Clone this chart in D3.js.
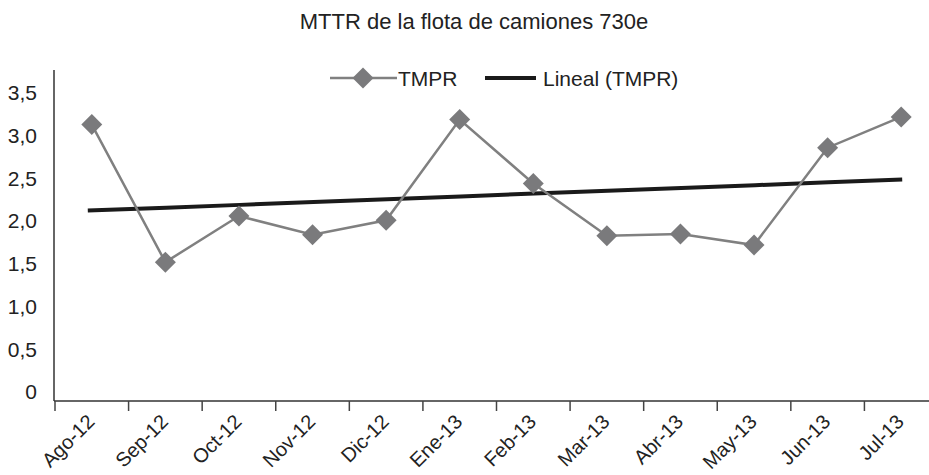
<!DOCTYPE html>
<html>
<head>
<meta charset="utf-8">
<script src="https://cdn.jsdelivr.net/npm/d3@7"></script>
<style>
  body { margin: 0; background: #fff; }
  svg { font-family: "Liberation Sans", Arial, sans-serif; }
</style>
</head>
<body>
<script>
// months and MTTR values (hours)
const months = ["Ago-12", "Sep-12", "Oct-12", "Nov-12", "Dic-12", "Ene-13",
                "Feb-13", "Mar-13", "Abr-13", "May-13", "Jun-13", "Jul-13"]
const tmpr = [3.13, 1.52, 2.06, 1.84, 2.01, 3.19, 2.44, 1.83, 1.85, 1.72, 2.86, 3.22]
const yTicks = [0, 0.5, 1, 1.5, 2, 2.5, 3, 3.5]

const width = 929, height = 475
const svg = d3.select("body").append("svg")
  .attr("width", width).attr("height", height)

// scales
const x = d3.scaleBand().domain(months).range([55, 938])
const y = d3.scaleLinear().domain([0, 3.5]).range([392, 93])
const plotTop = 70, plotBottom = 401
const cx = d => x(d) + x.bandwidth() / 2

// title
svg.append("text")
  .attr("x", 474).attr("y", 29)
  .attr("text-anchor", "middle")
  .attr("font-size", 22).attr("fill", "#222")
  .text("MTTR de la flota de camiones 730e")

// y axis labels (comma decimals)
const fmt = d => d === 0 ? "0" : d3.format(".1f")(d).replace(".", ",")
const yAxis = svg.append("g")
  .attr("transform", "translate(54,0)")
  .call(d3.axisLeft(y).tickValues(yTicks).tickFormat(fmt).tickSize(0).tickPadding(17))
yAxis.select(".domain").remove()
yAxis.selectAll("text").attr("font-size", 21).attr("fill", "#222")
  .attr("font-family", "Liberation Sans, Arial, sans-serif")

// y axis line
svg.append("line")
  .attr("x1", 54).attr("x2", 54)
  .attr("y1", plotTop).attr("y2", plotBottom)
  .attr("stroke", "#666").attr("stroke-width", 2)

// x axis
const xAxis = svg.append("g")
  .attr("transform", `translate(0,${plotBottom})`)
  .call(d3.axisBottom(x).tickSize(0).tickFormat(""))
xAxis.select(".domain").attr("stroke", "#333").attr("stroke-width", 1.5)
  .attr("d", `M54,0H${width}`)
xAxis.selectAll(".tick").remove()

svg.selectAll(".xtick").data(months).enter()
  .append("line")
  .attr("class", "xtick")
  .attr("x1", d => x(d)).attr("x2", d => x(d))
  .attr("y1", plotBottom).attr("y2", plotBottom + 10)
  .attr("stroke", "#444").attr("stroke-width", 1.5)

svg.selectAll(".xlabel").data(months).enter()
  .append("text")
  .attr("class", "xlabel")
  .attr("transform", d => `translate(${cx(d) + 4},${plotBottom + 22}) rotate(-45)`)
  .attr("text-anchor", "end")
  .attr("font-size", 20).attr("fill", "#222")
  .text(d => d)

// linear trend (least squares over month index)
const n = tmpr.length
const mx = (n - 1) / 2
const my = d3.mean(tmpr)
const slope = d3.sum(tmpr, (v, i) => (i - mx) * (v - my)) / d3.sum(tmpr, (v, i) => (i - mx) ** 2)
const trend = months.map((m, i) => ({ m, v: my + slope * (i - mx) }))

const line = d3.line().x(d => cx(d.m)).y(d => y(d.v))

svg.append("path")
  .datum(trend)
  .attr("d", d3.line().x((d, i) => cx(d.m) + (i === 0 ? -4 : 1)).y(d => y(d.v)))
  .attr("fill", "none").attr("stroke", "#1a1a1a").attr("stroke-width", 4)

// TMPR series
const series = months.map((m, i) => ({ m, v: tmpr[i] }))
svg.append("path")
  .datum(series)
  .attr("d", line)
  .attr("fill", "none").attr("stroke", "#808080").attr("stroke-width", 2.5)

const diamond = d3.symbol().type(d3.symbolSquare).size(220)
svg.selectAll(".pt").data(series).enter()
  .append("path")
  .attr("class", "pt")
  .attr("d", diamond)
  .attr("transform", d => `translate(${cx(d.m)},${y(d.v)}) rotate(45)`)
  .attr("fill", "#7a7a7c")

// legend
const lg = svg.append("g")
lg.append("line").attr("x1", 330).attr("x2", 397).attr("y1", 78).attr("y2", 78)
  .attr("stroke", "#808080").attr("stroke-width", 2.5)
lg.append("path").attr("d", diamond)
  .attr("transform", "translate(363,78) rotate(45)").attr("fill", "#7a7a7c")
lg.append("text").attr("x", 398).attr("y", 86).attr("font-size", 21).attr("fill", "#222").text("TMPR")
lg.append("line").attr("x1", 485).attr("x2", 536).attr("y1", 78).attr("y2", 78)
  .attr("stroke", "#1a1a1a").attr("stroke-width", 4)
lg.append("text").attr("x", 543).attr("y", 86).attr("font-size", 21).attr("fill", "#222").text("Lineal (TMPR)")
</script>
</body>
</html>
